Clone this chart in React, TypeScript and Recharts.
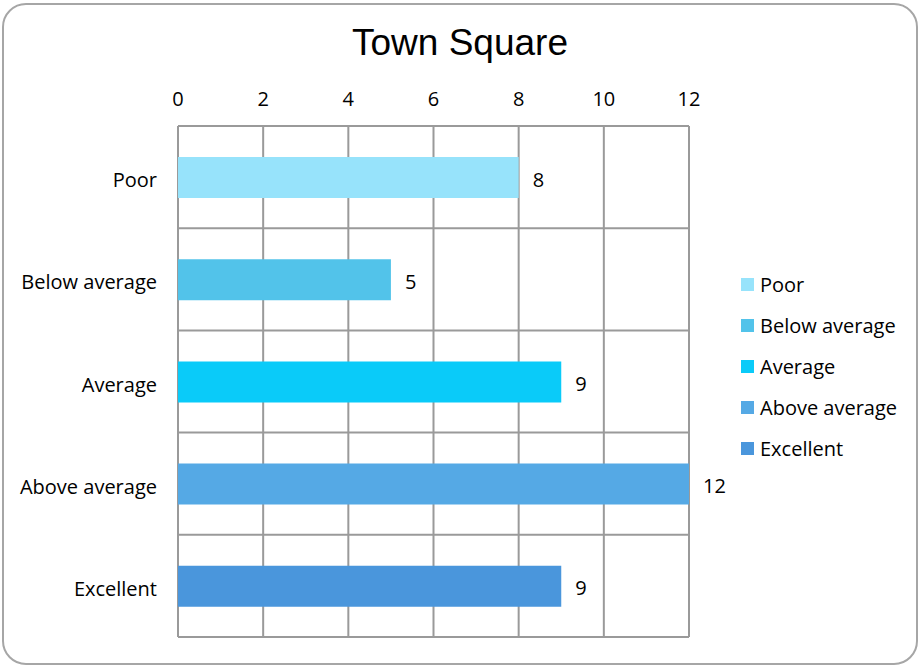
import React from 'react';
import { BarChart, Bar, XAxis, YAxis, CartesianGrid, Cell, LabelList } from 'recharts';

const categories = ['Poor', 'Below average', 'Average', 'Above average', 'Excellent'];
const values = [8, 5, 9, 12, 9];
const colors = ['#97E3FB', '#52C3EA', '#0ACBF9', '#55A9E5', '#4A96DC'];
const xTicks = [0, 2, 4, 6, 8, 10, 12];
const title = 'Town Square';

const data = categories.map((c, i) => ({ name: c, value: values[i] }));

const FONT = '"Open Sans", sans-serif';

export default function App() {
  return (
    <div style={{ position: 'absolute', left: 0, top: 0, width: 920, height: 666, background: '#fff' }}>
      <div
        style={{
          position: 'absolute', left: 2, top: 3, width: 912, height: 658,
          border: '2px solid #a6a6a6', borderRadius: 24, boxSizing: 'content-box',
        }}
      />
      <div
        style={{
          position: 'absolute', left: 0, top: 24, width: 920, textAlign: 'center',
          fontFamily: '"Liberation Sans", Arial, sans-serif', fontSize: 37, lineHeight: '37px', color: '#000',
        }}
      >
        {title}
      </div>
      <div style={{ position: 'absolute', left: 0, top: 0 }}>
        <BarChart
          width={920}
          height={666}
          layout="vertical"
          data={data}
          margin={{ top: 96, right: 231, bottom: 29, left: 0 }}
        >
          <CartesianGrid
            stroke="#9a9a9a"
            strokeWidth={2}
            fill="none"
            horizontalCoordinatesGenerator={({ offset }: any) =>
              Array.from({ length: categories.length + 1 }, (_, i) => offset.top + (i * offset.height) / categories.length)
            }
          />
          <XAxis
            type="number"
            orientation="top"
            domain={[0, 12]}
            ticks={xTicks}
            axisLine={false}
            tickLine={false}
            tickSize={0}
            tickMargin={20}
            height={30}
            interval={0}
            tick={{ fill: '#000', fontSize: 20, fontFamily: FONT }}
          />
          <YAxis
            type="category"
            dataKey="name"
            width={178}
            axisLine={false}
            tickLine={false}
            tickSize={0}
            tickMargin={21}
            interval={0}
            tick={{ fill: '#000', fontSize: 20, fontFamily: FONT, dy: 3 }}
          />
          <Bar dataKey="value" barSize={41} isAnimationActive={false}>
            {data.map((d, i) => (
              <Cell key={d.name} fill={colors[i]} />
            ))}
            <LabelList dataKey="value" position="right" offset={14} fill="#000" fontSize={20} fontFamily={FONT} dy={2} />
          </Bar>
        </BarChart>
      </div>
      <div style={{ position: 'absolute', left: 741, top: 264, fontFamily: FONT, fontSize: 20, color: '#000' }}>
        {categories.map((c, i) => (
          <div key={c} style={{ display: 'flex', alignItems: 'center', height: 41 }}>
            <div style={{ width: 13, height: 13, background: colors[i], marginRight: 6 }} />
            <span style={{ whiteSpace: 'nowrap' }}>{c}</span>
          </div>
        ))}
      </div>
    </div>
  );
}
